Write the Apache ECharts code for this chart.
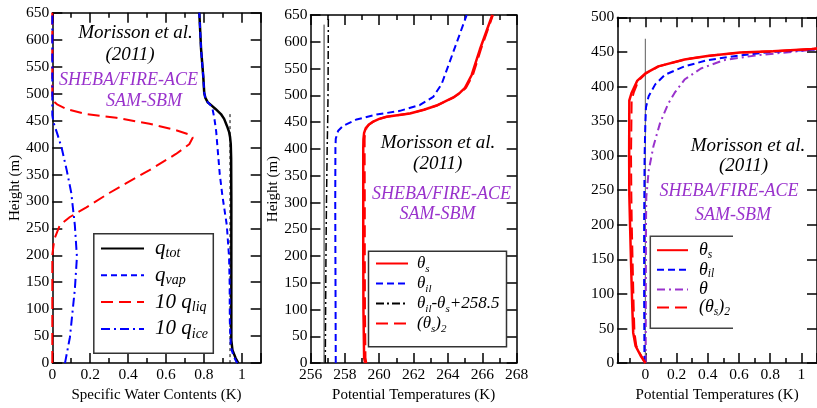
<!DOCTYPE html>
<html><head><meta charset="utf-8">
<script src="https://cdn.jsdelivr.net/npm/echarts@6/dist/echarts.min.js"></script>
<style>html,body{margin:0;padding:0;background:#fff}#c{width:817px;height:408px}</style>
</head><body><div id="c"></div>
<script>
// ---------- Panel 1: specific water contents ----------
const qtotH = [0, 9, 24, 42, 100, 200, 300, 380, 406, 420, 429, 440, 453, 462, 471, 478, 484, 492, 501, 531, 584, 650];
const qtotX = [0.982, 0.968, 0.951, 0.945, 0.945, 0.945, 0.945, 0.944, 0.942, 0.938, 0.933, 0.922, 0.907, 0.89, 0.863, 0.84, 0.82, 0.808, 0.802, 0.797, 0.785, 0.776];
const qvapH = [0, 5, 15, 30, 78, 150, 197, 256, 310, 350, 400, 430, 455, 471, 478, 484, 492, 501, 531, 584, 650];
const qvapX = [0.976, 0.968, 0.955, 0.942, 0.937, 0.936, 0.933, 0.921, 0.898, 0.884, 0.872, 0.865, 0.855, 0.846, 0.836, 0.82, 0.808, 0.802, 0.797, 0.785, 0.776];
const qliqH = [0, 200, 220, 233, 256, 271, 289, 316, 334, 358, 388, 406, 418, 423, 432, 444, 455, 462, 471, 480, 488, 650];
const qliqX = [0, 0, 0.007, 0.014, 0.04, 0.093, 0.18, 0.303, 0.391, 0.513, 0.653, 0.723, 0.741, 0.732, 0.653, 0.513, 0.338, 0.18, 0.076, 0.025, 0, 0];
const qiceH = [0, 48, 137, 197, 256, 316, 358, 400, 429, 447, 460, 650];
const qiceX = [0.067, 0.093, 0.119, 0.13, 0.119, 0.1, 0.076, 0.049, 0.023, 0.006, 0, 0];
const ref1H = [0, 463];
const ref1X = [0.938, 0.938];

// ---------- Panel 2: potential temperatures ----------
const tsH = [0, 10, 100, 200, 300, 400, 418, 430, 439, 445, 451, 456, 460, 466, 473, 481, 496, 505, 514, 538, 586, 650];
const tsX = [259.18, 259.12, 259.08, 259.07, 259.07, 259.07, 259.08, 259.12, 259.22, 259.38, 259.65, 260.0, 260.43, 261.78, 262.6, 263.34, 264.31, 264.7, 264.99, 265.38, 265.86, 266.58];
const ts2X = [259.25, 259.2, 259.17, 259.16, 259.16, 259.15, 259.15, 259.17, 259.26, 259.4, 259.66, 260.0, 260.43, 261.78, 262.6, 263.34, 264.33, 264.75, 265.05, 265.45, 265.92, 266.62];
const tilH = [0, 100, 200, 300, 400, 419, 434, 443, 455, 464, 471, 482, 497, 521, 581, 650];
const tilX = [257.47, 257.46, 257.45, 257.44, 257.45, 257.47, 257.61, 257.9, 258.68, 259.84, 261.2, 262.37, 263.14, 263.63, 264.31, 265.09];
const diffH = [0, 100, 200, 300, 400, 450, 500, 650];
const diffX = [256.86, 256.88, 256.9, 256.93, 256.97, 257.0, 257.02, 257.04];
const ref2H = [0, 632];
const ref2X = [256.79, 256.79];

// ---------- Panel 3: potential temperature anomalies ----------
const p3tsH = [0, 11, 25, 44, 81, 128, 198, 244, 300, 380, 391, 408, 419, 429, 439, 444, 449, 451, 454, 456];
const p3tsX = [0, -0.031, -0.063, -0.078, -0.084, -0.09, -0.098, -0.103, -0.104, -0.103, -0.088, -0.053, 0, 0.083, 0.251, 0.397, 0.606, 0.816, 1.067, 1.15];
const p3ts2X = [0, -0.028, -0.058, -0.07, -0.075, -0.08, -0.087, -0.09, -0.092, -0.088, -0.075, -0.045, 0.005, 0.085, 0.251, 0.397, 0.606, 0.816, 1.067, 1.15];
const p3tilH = [0, 100, 200, 300, 347, 370, 386, 403, 417, 429, 438, 445, 450, 453, 455];
const p3tilX = [-0.006, -0.008, -0.008, -0.005, 0, 0.004, 0.021, 0.063, 0.126, 0.251, 0.397, 0.606, 0.816, 1.067, 1.15];
const p3thH = [0, 100, 200, 240, 278, 314, 347, 375, 391, 410, 426, 438, 445, 451, 455];
const p3thX = [0.002, 0.003, 0.004, 0.006, 0.021, 0.052, 0.094, 0.146, 0.188, 0.251, 0.356, 0.502, 0.711, 0.983, 1.15];
const ref3H = [0, 469];
const ref3X = [0, 0];

// ---------- text ----------
const refText = ['Morisson et al.', '(2011)'];
const caseText = ['SHEBA/FIRE-ACE', 'SAM-SBM'];
const yName = 'Height (m)';
const xNames = ['Specific Water Contents (K)', 'Potential Temperatures (K)', 'Potential Temperatures (K)'];

const FONT = 'Liberation Serif';
const PURPLE = '#9932CC';
const zip = (xs, hs) => xs.map((x, i) => [x, hs[i]]);

const grids = [
  {left: 52.3, top: 12.7, width: 208.4, height: 364},
  {left: 310.5, top: 15, width: 206.2, height: 360.5},
  {left: 617.3, top: 17.3, width: 204.8, height: 357.4}
];
const xr = [
  {min: 0, max: 1.1, step: 0.2, showMin: true, showMax: false},
  {min: 256, max: 268, step: 2, showMin: true, showMax: true},
  {min: -0.18, max: 1.1, step: 0.2, showMin: false, showMax: false}
];
const yr = [
  {min: 0, max: 650, step: 50, name: yName},
  {min: 0, max: 650, step: 50, name: yName},
  {min: 0, max: 500, step: 50, name: ''}
];

const lineAx = {show: true, onZero: false, lineStyle: {color: '#000', width: 1.5}};
const tickStyle = {color: '#000', width: 1.5};
const lblStyle = {color: '#000', fontFamily: FONT, fontSize: 15.5};
const xAxes = [], yAxes = [];
grids.forEach((g, i) => {
  const r = xr[i];
  ['bottom', 'top'].forEach(pos => {
    xAxes.push({
      type: 'value', gridIndex: i, position: pos, min: r.min, max: r.max,
      minInterval: r.step, maxInterval: r.step,
      axisLine: lineAx,
      axisTick: {show: true, inside: true, length: 10, lineStyle: tickStyle},
      minorTick: {show: true, splitNumber: 2, length: 5, lineStyle: tickStyle},
      axisLabel: pos === 'bottom' ? Object.assign({show: true, margin: 4, showMinLabel: r.showMin, showMaxLabel: r.showMax}, lblStyle) : {show: false},
      splitLine: {show: false}, minorSplitLine: {show: false},
      name: pos === 'bottom' ? xNames[i] : '', nameLocation: 'middle', nameGap: 20,
      nameTextStyle: {color: '#000', fontFamily: FONT, fontSize: 15}
    });
  });
  const ry = yr[i];
  ['left', 'right'].forEach(pos => {
    yAxes.push({
      type: 'value', gridIndex: i, position: pos, min: ry.min, max: ry.max, interval: ry.step,
      axisLine: lineAx,
      axisTick: {show: true, inside: true, length: 10, lineStyle: tickStyle},
      axisLabel: pos === 'left' ? Object.assign({show: true, margin: 3}, lblStyle) : {show: false},
      splitLine: {show: false},
      name: pos === 'left' ? ry.name : '', nameLocation: 'middle', nameGap: 30,
      nameTextStyle: {color: '#000', fontFamily: FONT, fontSize: 15}
    });
  });
});

function ser(name, gi, data, color, width, type, z) {
  return {
    name, type: 'line', xAxisIndex: gi * 2, yAxisIndex: gi * 2, data,
    symbol: 'none', showSymbol: false, silent: true, animation: false, z: z || 2,
    lineStyle: {color, width, type: type || 'solid'}, itemStyle: {color}
  };
}

const series = [
  ser('ref1', 0, zip(ref1X, ref1H), '#000', 1, [3, 3], 1),
  ser('qliq', 0, zip(qliqX, qliqH), '#ff0000', 2, [12, 6]),
  ser('qice', 0, zip(qiceX, qiceH), '#0000ff', 2, [9, 4, 2, 4]),
  ser('qtot', 0, zip(qtotX, qtotH), '#000', 2.5),
  ser('qvap', 0, zip(qvapX, qvapH), '#0000ff', 2, [6, 4], 3),

  ser('ref2', 1, zip(ref2X, ref2H), '#333', 1, 'solid', 1),
  ser('p2diff', 1, zip(diffX, diffH), '#000', 1.5, [8, 3, 2, 3]),
  ser('p2til', 1, zip(tilX, tilH), '#0000ff', 2, [7, 4]),
  ser('p2ts', 1, zip(tsX, tsH), '#ff0000', 2.5),
  ser('p2ts2', 1, zip(ts2X, tsH), '#ff0000', 2, [12, 6]),

  ser('ref3', 2, zip(ref3X, ref3H), '#777', 1.2, 'solid', 1),
  ser('p3t', 2, zip(p3thX, p3thH), PURPLE, 2, [8, 4, 2, 4]),
  ser('p3til', 2, zip(p3tilX, p3tilH), '#0000ff', 2, [7, 4]),
  ser('p3ts', 2, zip(p3tsX, p3tsH), '#ff0000', 2.5),
  ser('p3ts2', 2, zip(p3ts2X, p3tsH), '#ff0000', 2, [12, 6])
];

const legendText = {
  qtot: '{sp|}{n|q}{s|tot}',
  qvap: '{sp|}{n|q}{s|vap}',
  qliq: '{sp|}{n|10 q}{s|liq}',
  qice: '{sp|}{n|10 q}{s|ice}',
  p2ts: '{sp|}{n|θ}{s|s}',
  p2til: '{sp|}{n|θ}{s|il}',
  p2diff: '{sp|}{n|θ}{s|il}{n|-θ}{s|s}{n|+258.5}',
  p2ts2: '{sp|}{n|(θ}{s|s}{n|)}{s|2}',
  p3ts: '{sp|}{n|θ}{s|s}',
  p3til: '{sp|}{n|θ}{s|il}',
  p3t: '{sp|}{n|θ}',
  p3ts2: '{sp|}{n|(θ}{s|s}{n|)}{s|2}'
};
function rich(main, sub, lh, subLh, sp) {
  return {
    sp: {width: sp},
    n: {fontFamily: FONT, fontStyle: 'italic', fontSize: main, lineHeight: lh, verticalAlign: 'middle', color: '#000'},
    s: {fontFamily: FONT, fontStyle: 'italic', fontSize: sub, lineHeight: subLh, verticalAlign: 'bottom', color: '#000'}
  };
}
function legend(names, left, top, iw, ih, gap, r) {
  return {
    data: names, orient: 'vertical', left, top, itemWidth: iw, itemHeight: ih, itemGap: gap,
    padding: 0, selectedMode: false, formatter: n => legendText[n],
    itemStyle: {opacity: 0, borderWidth: 0},
    textStyle: {rich: r}
  };
}

const textEl = (t, x, y, size, color) => ({
  type: 'text', x, y, z: 10, silent: true,
  style: {text: t, fontFamily: FONT, fontStyle: 'italic', fontSize: size, fill: color, align: 'center', verticalAlign: 'middle'}
});

const option = {
  backgroundColor: '#fff',
  animation: false,
  textStyle: {fontFamily: FONT},
  grid: grids,
  xAxis: xAxes,
  yAxis: yAxes,
  series,
  legend: [
    legend(['qtot', 'qvap', 'qliq', 'qice'], 100, 238, 43, 24, 4.3, rich(21, 14, 24, 10, 6)),
    legend(['p2ts', 'p2til', 'p2diff', 'p2ts2'], 375, 254.7, 32, 22, 0.2, rich(17, 11, 22, 9, 4)),
    legend(['p3ts', 'p3til', 'p3t', 'p3ts2'], 656, 241.2, 31, 21, 0.1, rich(18, 11.5, 21, 9, 6))
  ],
  graphic: [
    {type: 'rect', silent: true, z: 5, shape: {x: 93.8, y: 233.8, width: 119.5, height: 119.5}, style: {fill: 'rgba(0,0,0,0)', stroke: '#333', lineWidth: 1.5}},
    {type: 'rect', silent: true, z: 5, shape: {x: 368.5, y: 251.3, width: 138, height: 95.4}, style: {fill: 'rgba(0,0,0,0)', stroke: '#333', lineWidth: 1.5}},
    {type: 'polyline', silent: true, z: 5, shape: {points: [[733, 236.3], [650.3, 236.3], [650.3, 328.3], [733, 328.3]]}, style: {fill: 'none', stroke: '#444', lineWidth: 1.5}},
    textEl(refText[0], 135.5, 33, 19, '#000'),
    textEl(refText[1], 130, 55, 19, '#000'),
    textEl(caseText[0], 128.5, 80.5, 18, PURPLE),
    textEl(caseText[1], 144, 101, 18, PURPLE),
    textEl(refText[0], 438, 142.5, 19, '#000'),
    textEl(refText[1], 437.7, 164, 19, '#000'),
    textEl(caseText[0], 441.5, 194.5, 18, PURPLE),
    textEl(caseText[1], 437.5, 214.5, 18, PURPLE),
    textEl(refText[0], 748, 145.5, 19, '#000'),
    textEl(refText[1], 743.5, 166, 19, '#000'),
    textEl(caseText[0], 729, 191, 18, PURPLE),
    textEl(caseText[1], 733, 215.5, 18, PURPLE)
  ]
};

const chart = echarts.init(document.getElementById('c'), null, {renderer: 'canvas'});
chart.setOption(option);
</script>
</body></html>
